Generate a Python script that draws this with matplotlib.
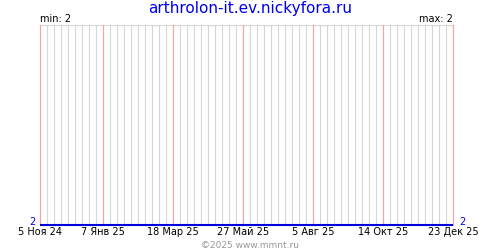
import matplotlib
matplotlib.use("Agg")
import matplotlib.pyplot as plt
from datetime import datetime, timedelta

title = "arthrolon-it.ev.nickyfora.ru"
series_dates = ["2024-11-05", "2025-12-23"]
series_values = [2, 2]
tick_dates = ["2024-11-05", "2025-01-07", "2025-03-18", "2025-05-27",
              "2025-08-05", "2025-10-14", "2025-12-23"]
tick_labels = ["5 Ноя 24", "7 Янв 25", "18 Мар 25", "27 Май 25",
               "5 Авг 25", "14 Окт 25", "23 Дек 25"]
min_label = "min: 2"
max_label = "max: 2"
y_label_value = "2"
footer = "©2025 www.mmnt.ru"

plt.rcParams['font.family'] = ['DejaVu Sans']

fig = plt.figure(figsize=(5, 2.5), dpi=100)
ax = fig.add_axes([0.08, 0.1, 0.826, 0.8])

x = [datetime.strptime(d, "%Y-%m-%d") for d in series_dates]
ticks = [datetime.strptime(d, "%Y-%m-%d") for d in tick_dates]

# weekly grid lines
start, end = x[0], x[-1]
d = start
while d <= end:
    ax.axvline(d, color="#d6d6d6", lw=0.8, zorder=1, clip_on=False)
    d += timedelta(days=7)
for t in ticks:
    ax.axvline(t, color="#ff9f9f", lw=0.8, zorder=2, clip_on=False)
ax.axhline(3, color="#d6d6d6", lw=0.8, zorder=1)

ax.plot(x, series_values, color="#0000dd", lw=1.5, zorder=3,
        solid_capstyle="butt", clip_on=False)

ax.set_xlim(start, end)
ax.set_ylim(2, 3)
for s in ax.spines.values():
    s.set_visible(False)
ax.set_yticks([])
ax.set_xticks(ticks)
ax.set_xticklabels(tick_labels, fontsize=7)
ax.tick_params(axis="x", length=0, pad=1.5)

fig.text(0.5, 0.968, title, ha="center", va="center", color="#0000ee", fontsize=11)
fig.text(0.08, 0.925, min_label, ha="left", va="center", fontsize=7)
fig.text(0.906, 0.925, max_label, ha="right", va="center", fontsize=7)
fig.text(0.07, 0.112, y_label_value, ha="right", va="center", color="#0000dd", fontsize=7)
fig.text(0.918, 0.112, y_label_value, ha="left", va="center", color="#0000dd", fontsize=7)
fig.text(0.5, 0.02, footer, ha="center", va="center", color="#999999", fontsize=6.5)

fig.savefig("out.png", dpi=100)
